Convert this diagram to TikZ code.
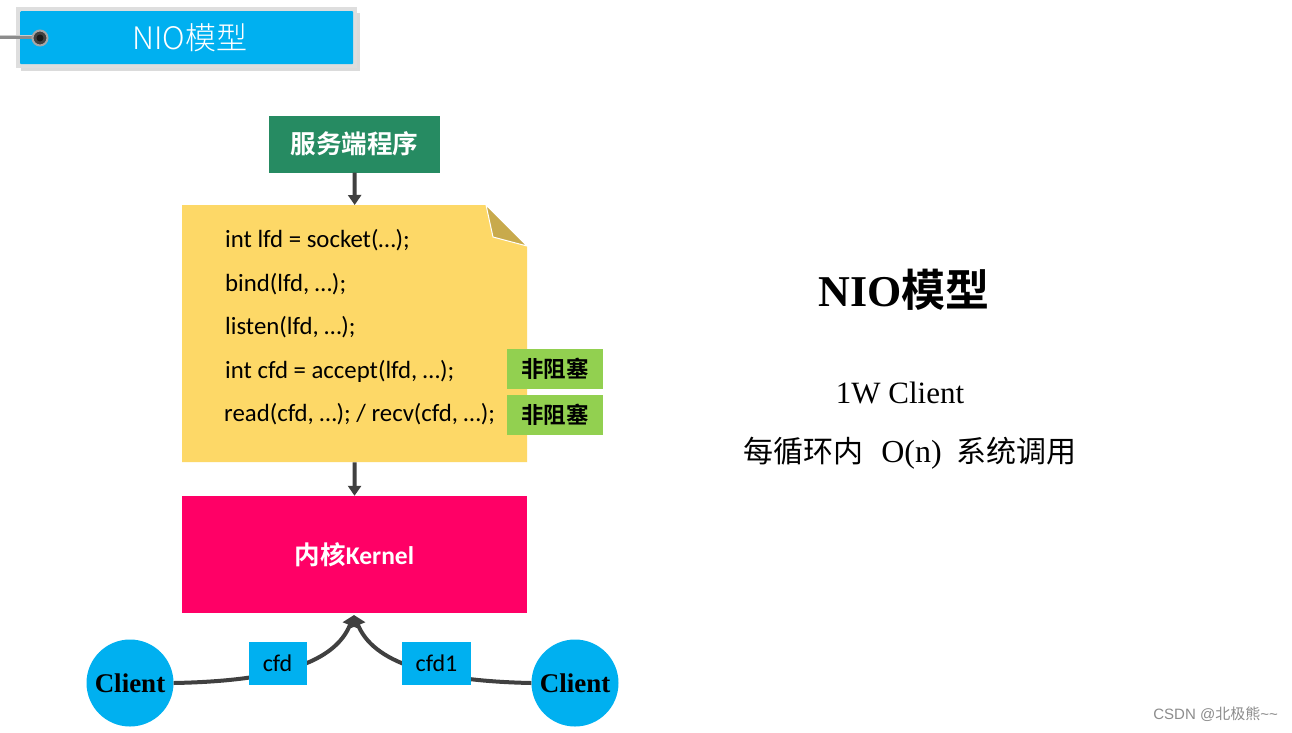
\documentclass[tikz,border=0pt]{standalone}
\usepackage{fontspec}
\setmainfont{Carlito}
\newfontfamily\cjk{Noto Sans CJK SC}
\newfontfamily\cjkl{Noto Sans CJK SC Light}
\newfontfamily\cjkb{Noto Sans CJK SC}[BoldFont={* Bold}]
\newfontfamily\serifl{Liberation Serif}
\newfontfamily\sansl{Liberation Sans}
\usetikzlibrary{arrows.meta,shadows}
\definecolor{tabblue}{HTML}{00B0F0}
\definecolor{srvgreen}{HTML}{268B62}
\definecolor{noteyel}{HTML}{FDD867}
\definecolor{foldtan}{HTML}{C8AA4C}
\definecolor{nbgreen}{HTML}{92D050}
\definecolor{kpink}{HTML}{FF0066}
\definecolor{arrgray}{HTML}{404040}
\tikzset{
  conn/.style={draw=arrgray, line width=4pt, -{Triangle[width=13pt,length=10pt]}},
  curvy/.style={draw=arrgray, line width=4pt, -{Triangle[width=15pt,length=11pt]}},
  nblock/.style={fill=nbgreen, minimum width=96pt, minimum height=40pt, inner sep=0pt, font=\cjkb\bfseries\fontsize{22.5}{24}\selectfont},
  codeline/.style={anchor=west, inner sep=0pt, font=\fontsize{24.8}{28}\selectfont},
  client/.style={circle, fill=tabblue, minimum size=87pt, inner sep=0pt, font=\serifl\bfseries\fontsize{27}{30}\selectfont},
  lab/.style={fill=tabblue, minimum height=43pt, inner sep=0pt, font=\fontsize{24}{26}\selectfont},
  bigtxt/.style={inner sep=0pt, font=\fontsize{30}{34}\selectfont}
}
\begin{document}
\begin{tikzpicture}[x=1pt,y=-1pt]
\useasboundingbox (0,0) rectangle (1292,732);
\fill[white] (0,0) rectangle (1292,732);
% title tab
\fill[black!20, opacity=0.7] (21,13) rectangle (360,71);
\fill[black!13] (16,7) rectangle (357,68);
\node[fill=tabblue, minimum width=333pt, minimum height=53pt, inner sep=0pt, anchor=north west, rounded corners=1pt] (tab) at (20,11) {};
\draw[black!45, line width=4pt] (0,37) -- (36,37);
\draw[black!20, line width=1pt] (0,35.5) -- (36,35.5);
\node[circle, fill=black!75, draw=black!35, line width=2pt, minimum size=15pt, inner sep=0pt] (ring) at (40,38) {};
\node[circle, fill=black!90, minimum size=7pt, inner sep=0pt] at (ring) {};
\node[text=white, inner sep=0pt, font=\cjkl\fontsize{31}{34}\selectfont] (tabtxt) at (190,38) {NIO模型};
% server program
\node[fill=srvgreen, minimum width=171pt, minimum height=57pt, inner sep=0pt, text=white, font=\cjkb\bfseries\fontsize{25.6}{28}\selectfont] (srv) at (354.5,144) {服务端程序};
% note
\fill[noteyel] (182,205) -- (486,205) -- (527,246) -- (527,462) -- (182,462) -- cycle;
\fill[foldtan, draw=white, line width=1pt] (486,205) -- (493,237) -- (527,246) -- cycle;
\node[inner sep=0pt, minimum width=345pt, minimum height=257pt, anchor=north west] (note) at (182,205) {};
\node[codeline] (c1) at (225,240) {int lfd = socket(…);};
\node[codeline] (c2) at (225,284) {bind(lfd, …);};
\node[codeline] (c3) at (225,327) {listen(lfd, …);};
\node[codeline] (c4) at (225,371) {int cfd = accept(lfd, …);};
\node[codeline] (c5) at (224,414) {read(cfd, …); / recv(cfd, …);};
\node[nblock] (nb1) at (555,369) {非阻塞};
\node[nblock] (nb2) at (555,415) {非阻塞};
% kernel
\node[fill=kpink, minimum width=345pt, minimum height=117pt, inner sep=0pt, text=white, font=\bfseries\fontsize{25.5}{28}\selectfont] (kern) at (354.5,554.5) {{\cjkb\bfseries 内核}Kernel};
% arrows
\draw[conn] (srv.south) -- (note.north);
\draw[conn] (note.south) -- (kern.north);
% clients
\node[client] (cl1) at (130,683) {Client};
\node[client] (cl2) at (575,683) {Client};
\coordinate (tip) at (354,615);
\draw[curvy] (cl1.east) .. controls (280,681) and (335,662) .. (tip);
\draw[curvy] (cl2.west) .. controls (430,681) and (373,662) .. (tip);
\node[lab, minimum width=58pt] (l1) at (277.5,663.5) {cfd};
\node[lab, minimum width=69pt] (l2) at (436.5,663.5) {cfd1};
% right text
\node[inner sep=0pt, font=\serifl\bfseries\fontsize{44}{48}\selectfont] (t1) at (904,290) {NIO{\cjkb\bfseries 模型}};
\node[bigtxt, font=\serifl\fontsize{31}{34}\selectfont] (t2) at (900,393) {1W Client};
\node[bigtxt] (t3) at (910,453) {{\cjk 每循环内}\hspace{18pt}{\serifl\fontsize{32}{34}\selectfont O(n)}\hspace{15pt}{\cjk 系统调用}};
% watermark
\node[inner sep=0pt, text=black!45, font=\fontsize{15}{17}\selectfont, anchor=east] (wm) at (1278,714) {{\sansl CSDN @}{\cjk 北极熊}{\sansl\string~\string~}};
\end{tikzpicture}
\end{document}
